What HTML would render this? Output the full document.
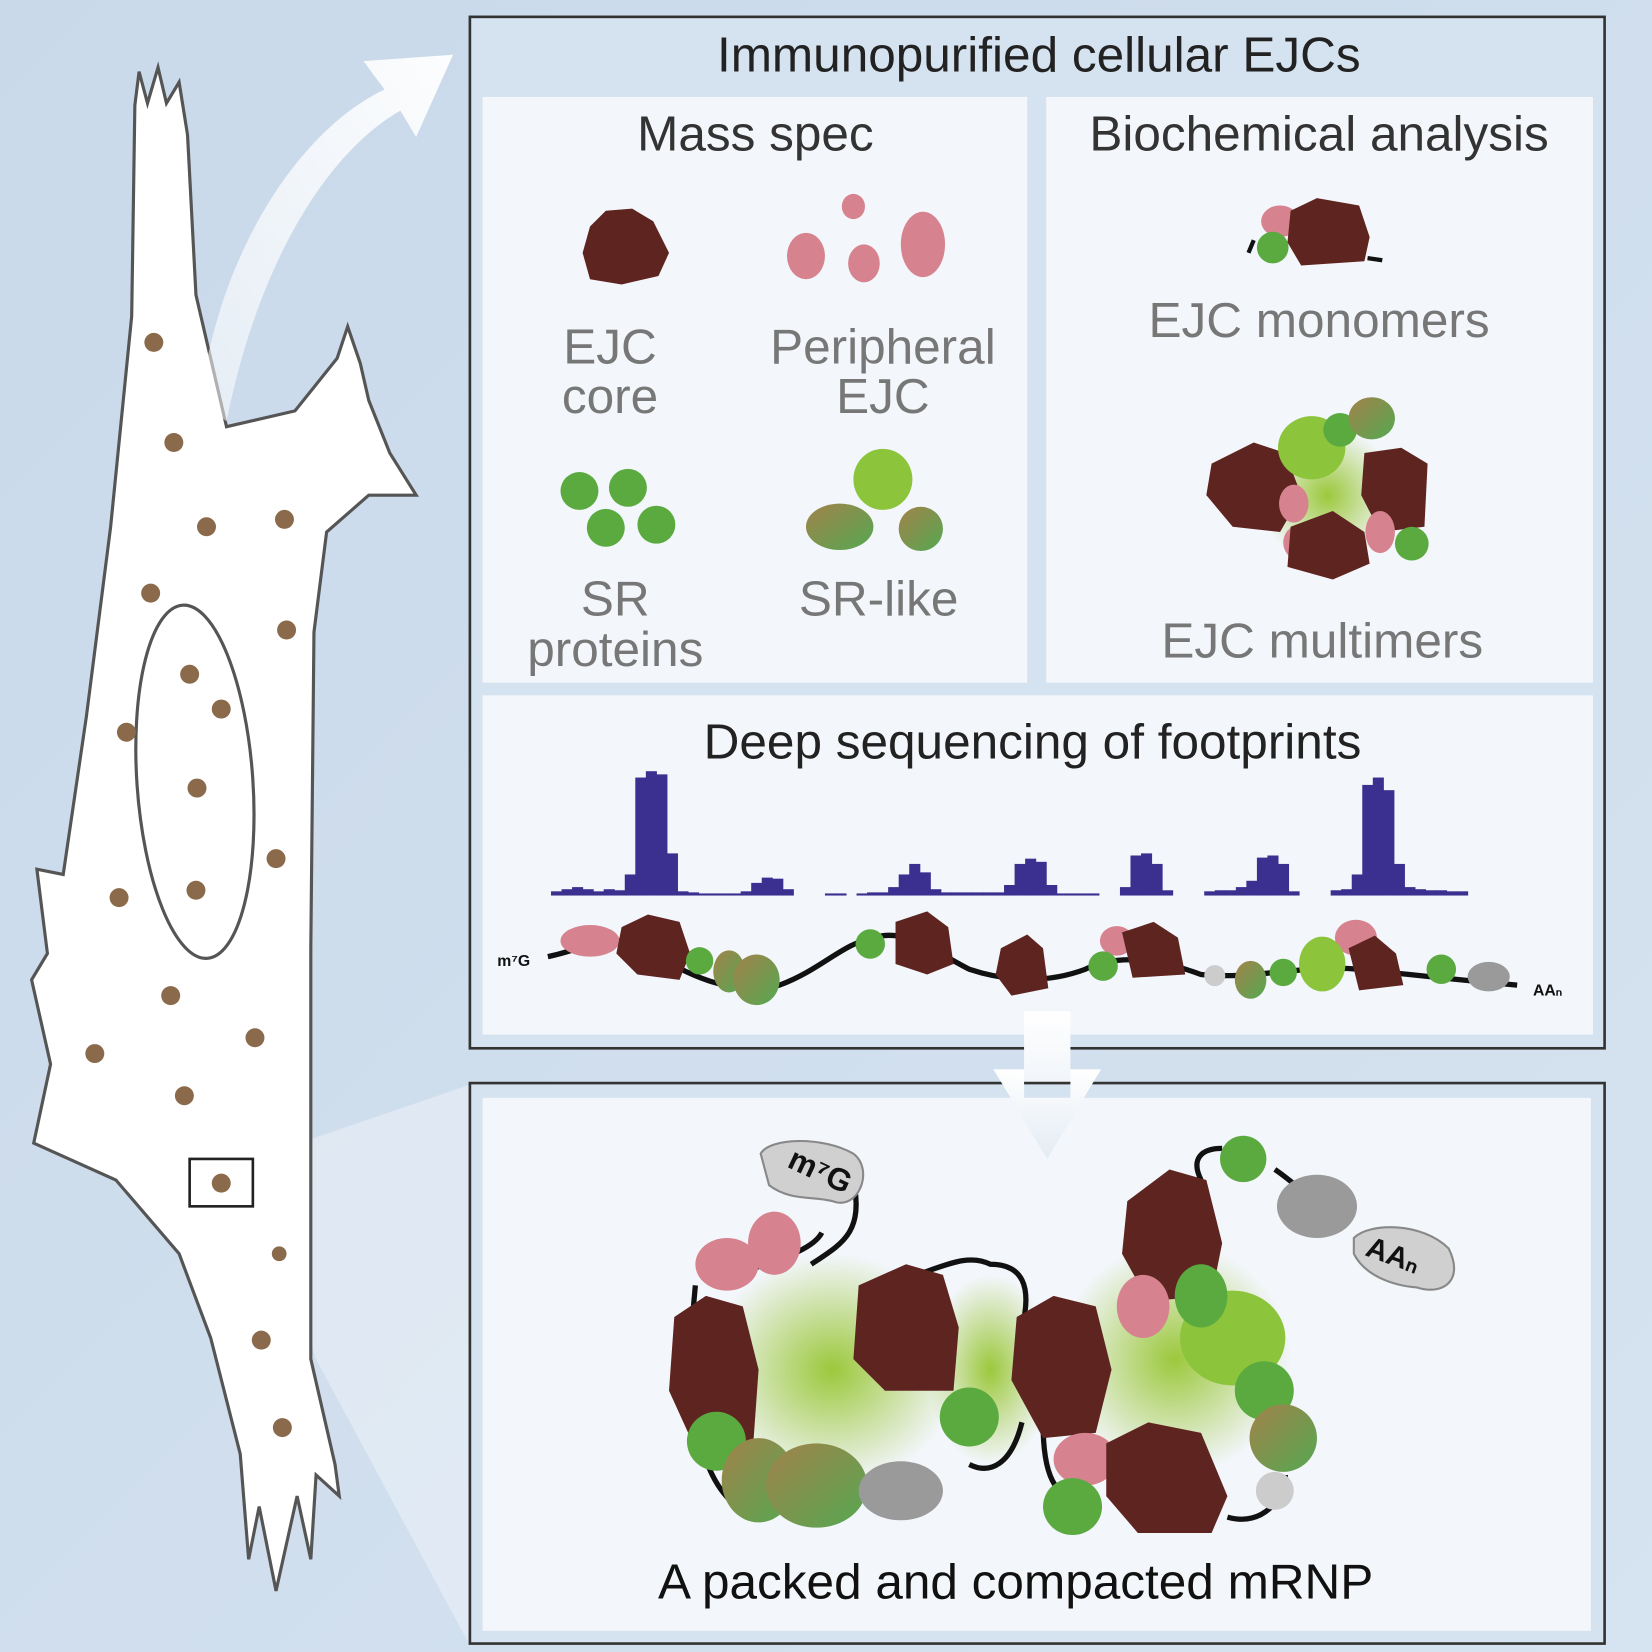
<!DOCTYPE html>
<html><head><meta charset="utf-8"><style>
html,body{margin:0;padding:0;background:#d2e0ee}
svg{display:block}
text{font-family:"Liberation Sans",sans-serif}
</style></head><body>
<svg width="1652" height="1652" viewBox="0 0 1568 1568" xmlns="http://www.w3.org/2000/svg">
<defs>
<linearGradient id="bg" x1="0" y1="0" x2="1" y2="1"><stop offset="0" stop-color="#c9d9ea"/><stop offset="1" stop-color="#d6e3f0"/></linearGradient>
<radialGradient id="glow"><stop offset="0" stop-color="#9cc83c"/><stop offset="1" stop-color="#9cc83c" stop-opacity="0"/></radialGradient>
<linearGradient id="mix" x1="0" y1="0" x2="1" y2="1"><stop offset="0" stop-color="#a2824a"/><stop offset="1" stop-color="#55a852"/></linearGradient>
<linearGradient id="arrowg" x1="0" y1="1" x2="1" y2="0"><stop offset="0" stop-color="#fff" stop-opacity="0.5"/><stop offset="1" stop-color="#fff" stop-opacity="0.95"/></linearGradient>
<linearGradient id="downg" x1="0" y1="0" x2="0" y2="1"><stop offset="0" stop-color="#fff"/><stop offset="1" stop-color="#e3ebf4"/></linearGradient>
</defs>
<rect width="1568" height="1568" fill="url(#bg)"/>
<polygon points="240,1100 445,1030 445,1560 300,1290" fill="#fff" opacity="0.35"/>
<path d="M128,100 L132,68 L140,98 L150,64 L158,98 L170,78 L178,128 L186,280 L215,405 L280,390 L320,340 L330,310 L342,345 L350,380 L370,430 L395,470 L350,470 L310,505 L298,600 L295,900 L295,1290 L318,1390 L322,1420 L300,1400 L295,1480 L282,1420 L262,1510 L246,1430 L236,1480 L228,1380 L200,1270 L170,1190 L110,1120 L32,1085 L48,1010 L30,930 L45,905 L35,825 L60,830 L82,680 L105,500 L125,300 Z" fill="#fff" stroke="#555" stroke-width="3"/>
<ellipse cx="185" cy="742" rx="55" ry="168" transform="rotate(-4 185 742)" fill="none" stroke="#555" stroke-width="3"/>
<g fill="#8a6a4a">
<circle cx="146" cy="325" r="9"/><circle cx="165" cy="420" r="9"/><circle cx="196" cy="500" r="9"/><circle cx="270" cy="493" r="9"/><circle cx="143" cy="563" r="9"/><circle cx="272" cy="598" r="9"/><circle cx="180" cy="640" r="9"/><circle cx="210" cy="673" r="9"/><circle cx="120" cy="695" r="9"/><circle cx="187" cy="748" r="9"/><circle cx="262" cy="815" r="9"/><circle cx="186" cy="845" r="9"/><circle cx="113" cy="852" r="9"/><circle cx="162" cy="945" r="9"/><circle cx="242" cy="985" r="9"/><circle cx="90" cy="1000" r="9"/><circle cx="175" cy="1040" r="9"/><circle cx="210" cy="1123" r="9"/><circle cx="265" cy="1190" r="7"/><circle cx="248" cy="1272" r="9"/><circle cx="268" cy="1355" r="9"/>
</g>
<rect x="180" y="1100" width="60" height="45" fill="none" stroke="#222" stroke-width="2.5"/>
<path d="M190,380 C210,230 290,120 365,85 L345,58 L430,52 L395,130 L380,105 C310,145 245,250 215,400 Z" fill="url(#arrowg)"/>
<rect x="446" y="16" width="1077" height="979" fill="#d5e2ef" stroke="#333" stroke-width="2.5"/>
<text x="986" y="68" font-size="47" text-anchor="middle" fill="#222">Immunopurified cellular EJCs</text>
<rect x="458" y="92" width="517" height="556" fill="#f3f6fb"/>
<rect x="993" y="92" width="519" height="556" fill="#f3f6fb"/>
<rect x="458" y="660" width="1054" height="322" fill="#f3f6fb"/>
<text x="717" y="143" font-size="47" text-anchor="middle" fill="#333">Mass spec</text>
<text x="1252" y="143" font-size="47" text-anchor="middle" fill="#333">Biochemical analysis</text>
<path d="M560,215 L575,200 L600,198 L620,210 L635,240 L625,262 L590,270 L560,265 L553,240 Z" fill="#5e2420"/>
<g fill="#d6838f"><ellipse cx="810" cy="196" rx="11" ry="12"/><ellipse cx="765" cy="243" rx="18" ry="22"/><ellipse cx="820" cy="250" rx="15" ry="18"/><ellipse cx="876" cy="232" rx="21" ry="31"/></g>
<g fill="#5aaa40"><circle cx="550" cy="466" r="18"/><circle cx="596" cy="463" r="18"/><circle cx="575" cy="501" r="18"/><circle cx="623" cy="498" r="18"/></g>
<g><ellipse cx="838" cy="455" rx="28" ry="29" fill="#8cc43c"/><ellipse cx="797" cy="500" rx="32" ry="22" fill="url(#mix)"/><circle cx="874" cy="502" r="21" fill="url(#mix)"/></g>
<g font-size="47" fill="#777" text-anchor="middle">
<text x="579" y="345">EJC</text><text x="579" y="392">core</text>
<text x="838" y="345">Peripheral</text><text x="838" y="392">EJC</text>
<text x="584" y="584">SR</text><text x="584" y="632">proteins</text>
<text x="834" y="584">SR-like</text>
</g>
<g><ellipse cx="1215" cy="210" rx="18" ry="15" fill="#d6838f"/><path d="M1225,200 L1250,188 L1290,195 L1300,225 L1295,248 L1235,252 L1222,230 Z" fill="#5e2420"/><circle cx="1208" cy="235" r="15" fill="#5aaa40"/><path d="M1190,228 L1185,240 M1298,245 L1312,247" stroke="#111" stroke-width="4"/></g>
<text x="1252" y="320" font-size="47" fill="#777" text-anchor="middle">EJC monomers</text>
<g>
<circle cx="1260" cy="470" r="65" fill="url(#glow)"/>
<path d="M1150,440 L1190,420 L1220,430 L1235,470 L1215,505 L1170,500 L1145,470 Z" fill="#5e2420"/>
<path d="M1295,430 L1330,425 L1355,440 L1352,500 L1310,505 L1292,470 Z" fill="#5e2420"/>
<ellipse cx="1228" cy="478" rx="14" ry="18" fill="#d6838f"/><ellipse cx="1310" cy="505" rx="14" ry="20" fill="#d6838f"/><ellipse cx="1232" cy="515" rx="14" ry="16" fill="#d6838f"/>
<path d="M1225,500 L1265,485 L1295,505 L1300,535 L1265,550 L1222,538 Z" fill="#5e2420"/>
<ellipse cx="1245" cy="425" rx="32" ry="30" fill="#8cc43c"/><circle cx="1272" cy="408" r="16" fill="#5aaa40"/><ellipse cx="1302" cy="397" rx="22" ry="20" fill="url(#mix)"/><circle cx="1340" cy="516" r="16" fill="#5aaa40"/>
</g>
<text x="1255" y="624" font-size="47" fill="#777" text-anchor="middle">EJC multimers</text>
<text x="980" y="720" font-size="47" text-anchor="middle" fill="#222">Deep sequencing of footprints</text>
<g id="coverage"></g>
<path d="M520,908 C560,900 580,880 620,905 C660,930 700,945 740,935 C780,920 800,895 830,890 C860,880 890,905 920,920 C950,930 990,935 1030,920 C1060,905 1100,910 1140,925 C1190,930 1240,915 1290,920 C1340,925 1380,930 1440,935" fill="none" stroke="#111" stroke-width="5"/>
<g>
<ellipse cx="560" cy="893" rx="28" ry="15" fill="#d6838f"/>
<path d="M590,880 L615,868 L645,875 L655,905 L645,930 L605,925 L585,905 Z" fill="#5e2420"/>
<circle cx="664" cy="912" r="13" fill="#5aaa40"/><ellipse cx="692" cy="922" rx="15" ry="20" fill="url(#mix)"/><ellipse cx="718" cy="930" rx="22" ry="24" fill="url(#mix)"/>
<circle cx="826" cy="896" r="14" fill="#5aaa40"/>
<path d="M850,875 L880,865 L900,880 L905,915 L880,925 L850,915 Z" fill="#5e2420"/>
<path d="M950,900 L975,887 L990,900 L995,938 L960,945 L945,925 Z" fill="#5e2420"/>
<ellipse cx="1060" cy="893" rx="16" ry="14" fill="#d6838f"/><circle cx="1047" cy="917" r="14" fill="#5aaa40"/>
<path d="M1065,885 L1095,875 L1118,890 L1125,925 L1075,928 Z" fill="#5e2420"/>
<circle cx="1153" cy="926" r="10" fill="#ccc"/><ellipse cx="1187" cy="930" rx="15" ry="18" fill="url(#mix)"/><circle cx="1218" cy="923" r="13" fill="#5aaa40"/>
<ellipse cx="1287" cy="890" rx="20" ry="17" fill="#d6838f"/><ellipse cx="1255" cy="915" rx="22" ry="26" fill="#8cc43c"/>
<path d="M1280,900 L1305,888 L1325,905 L1332,935 L1290,940 Z" fill="#5e2420"/>
<circle cx="1368" cy="920" r="14" fill="#5aaa40"/><ellipse cx="1413" cy="927" rx="20" ry="14" fill="#9a9a9a"/>
</g>
<text x="472" y="917" font-size="15" font-weight="bold" fill="#111">m⁷G</text>
<text x="1455" y="945" font-size="15" font-weight="bold" fill="#111">AAₙ</text>
<polygon points="972,960 1016,960 1016,1015 1045,1015 994,1100 943,1015 972,1015" fill="url(#downg)"/>
<rect x="446" y="1028" width="1077" height="532" fill="#d5e2ef" stroke="#333" stroke-width="2.5"/>
<rect x="458" y="1042" width="1052" height="506" fill="#f3f6fb"/>
<polygon points="972,1042 1016,1042 1016,1015 1045,1015 994,1100 943,1015 972,1015" fill="url(#downg)"/>
<g>
<ellipse cx="790" cy="1300" rx="120" ry="110" fill="url(#glow)"/><ellipse cx="940" cy="1300" rx="60" ry="90" fill="url(#glow)"/><ellipse cx="1115" cy="1290" rx="110" ry="110" fill="url(#glow)"/>
<path d="M660,1220 C650,1320 660,1400 700,1430 M780,1170 C770,1190 720,1200 700,1210 M870,1210 C900,1200 920,1190 940,1200 C970,1200 980,1220 970,1260 M920,1390 C940,1400 960,1390 970,1350 M990,1350 C990,1400 1000,1420 1030,1430 M1165,1440 C1200,1450 1220,1420 1220,1400 M1140,1120 C1130,1100 1140,1090 1160,1090 M1210,1110 C1225,1120 1235,1130 1260,1150" fill="none" stroke="#111" stroke-width="5"/>
<path d="M770,1200 C800,1180 820,1170 810,1120" fill="none" stroke="#111" stroke-width="5"/>
<path d="M722,1095 C730,1080 780,1078 810,1095 C830,1110 815,1150 790,1140 C770,1135 750,1140 730,1125 Z" fill="#d0d0d0" stroke="#888" stroke-width="2"/>
<text x="745" y="1118" font-size="30" font-weight="bold" fill="#111" transform="rotate(25 770 1115)">m⁷G</text>
<ellipse cx="690" cy="1200" rx="30" ry="25" fill="#d6838f"/><ellipse cx="735" cy="1180" rx="25" ry="30" fill="#d6838f"/>
<path d="M640,1250 L670,1230 L705,1240 L720,1300 L715,1370 L660,1375 L635,1320 Z" fill="#5e2420"/>
<path d="M815,1220 L860,1200 L895,1210 L910,1260 L905,1320 L840,1320 L810,1290 Z" fill="#5e2420"/>
<path d="M965,1250 L1000,1230 L1040,1240 L1055,1300 L1040,1360 L990,1365 L960,1310 Z" fill="#5e2420"/>
<path d="M1070,1140 L1110,1110 L1145,1120 L1160,1180 L1150,1230 L1090,1235 L1065,1190 Z" fill="#5e2420"/>
<ellipse cx="1085" cy="1240" rx="25" ry="30" fill="#d6838f"/>
<ellipse cx="1170" cy="1270" rx="50" ry="45" fill="#8cc43c"/><circle cx="1200" cy="1320" r="28" fill="#5aaa40"/><ellipse cx="1218" cy="1365" rx="32" ry="32" fill="url(#mix)"/><circle cx="1210" cy="1415" r="18" fill="#ccc"/>
<ellipse cx="1140" cy="1230" rx="25" ry="30" fill="#5aaa40"/>
<ellipse cx="1030" cy="1385" rx="30" ry="25" fill="#d6838f"/>
<path d="M1050,1370 L1090,1350 L1140,1360 L1165,1420 L1150,1455 L1080,1455 L1050,1420 Z" fill="#5e2420"/>
<ellipse cx="1018" cy="1430" rx="28" ry="27" fill="#5aaa40"/>
<circle cx="1180" cy="1100" r="22" fill="#5aaa40"/><ellipse cx="1250" cy="1145" rx="38" ry="30" fill="#9a9a9a"/>
<path d="M1285,1175 C1300,1160 1350,1160 1375,1185 C1390,1215 1370,1230 1345,1222 C1320,1220 1295,1210 1285,1190 Z" fill="#d0d0d0" stroke="#888" stroke-width="2"/>
<text x="1295" y="1200" font-size="28" font-weight="bold" fill="#111" transform="rotate(20 1320 1195)">AAₙ</text>
<circle cx="920" cy="1345" r="28" fill="#5aaa40"/>
<circle cx="680" cy="1368" r="28" fill="#5aaa40"/><ellipse cx="720" cy="1405" rx="35" ry="40" fill="url(#mix)"/><ellipse cx="775" cy="1410" rx="48" ry="40" fill="url(#mix)"/><ellipse cx="855" cy="1415" rx="40" ry="28" fill="#9a9a9a"/>
</g>
<text x="964" y="1517" font-size="47" text-anchor="middle" fill="#111">A packed and compacted mRNP</text>
</svg>
<script>
const binStarts = [523,533,543,553,563,573,583,593,603,613,623,633,643,653,663,673,683,693,703,713,723,733,743,753,763,773,783,793,803,813,823,833,843,853,863,873,883,893,903,913,923,933,943,953,963,973,983,993,1003,1013,1023,1033,1043,1053,1063,1073,1083,1093,1103,1113,1123,1133,1143,1153,1163,1173,1183,1193,1203,1213,1223,1233,1243,1253,1263,1273,1283,1293,1303,1313,1323,1333,1343,1353,1363,1373,1383];
const coverage = [4,6,8,6,4,6,5,20,112,118,115,40,4,3,2,2,2,2,4,12,17,16,6,0,0,0,2,2,0,2,3,3,8,20,30,22,6,3,3,3,3,3,3,10,30,35,32,10,2,2,2,2,0,0,8,38,40,30,5,0,0,0,4,5,5,8,14,36,38,30,4,0,0,0,5,6,20,105,112,100,30,8,6,5,5,4,4];
const baseY = 850, binW = 10;
function yScale(v){ return baseY - v; }
const g = document.getElementById('coverage');
const NS = 'http://www.w3.org/2000/svg';
coverage.forEach((v,i)=>{
  if(v<=0) return;
  const r = document.createElementNS(NS,'rect');
  r.setAttribute('x', binStarts[i]);
  r.setAttribute('y', yScale(v));
  r.setAttribute('width', binW + 0.5);
  r.setAttribute('height', v);
  r.setAttribute('fill', '#3b2f8f');
  
  
  g.appendChild(r);
});
</script>
</body></html>
